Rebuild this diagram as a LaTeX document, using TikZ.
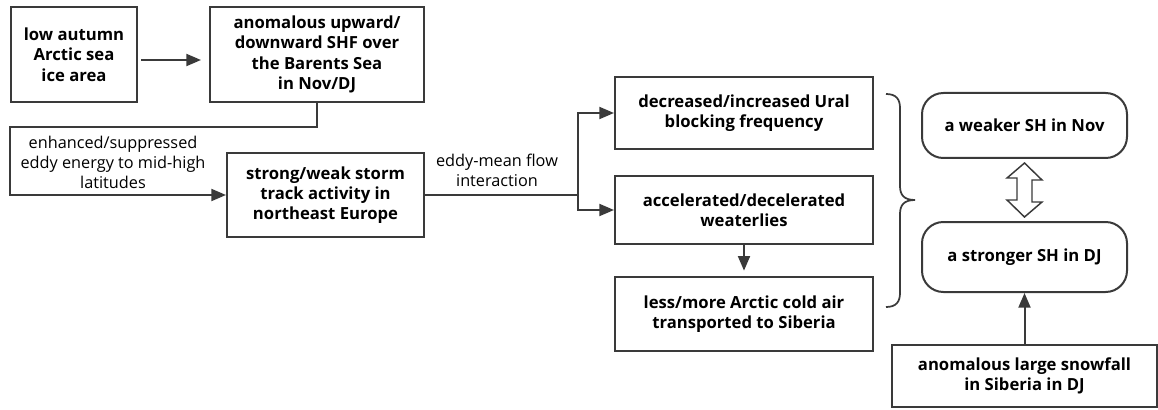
\documentclass[tikz,border=0pt]{standalone}
\usepackage{fontspec}
\setmainfont{Open Sans}
\usetikzlibrary{arrows.meta,calc}
\definecolor{edge}{HTML}{3A3A3A}
\tikzset{
  x=0.75pt, y=-0.75pt,
  box/.style={draw=edge, line width=1.5pt, fill=white, align=center,
    font=\fontsize{12.5}{15.2}\selectfont\bfseries, inner sep=0pt},
  pill/.style={box, rounded corners=16pt},
  link/.style={draw=edge, line width=1.5pt},
  arr/.style={link, -{Triangle[length=11pt,width=9pt]}},
  lbl/.style={align=center, font=\fontsize{12.2}{15}\selectfont, inner sep=0pt},
  hollow/.style={draw=edge, line width=1.1pt, fill=white, line join=miter},
}
\begin{document}
\begin{tikzpicture}
\useasboundingbox (0,0) rectangle (1158,410);

% boxes of the causal chain
\node[box, minimum width={126*0.75pt}, minimum height={95*0.75pt}] (A) at (74,54.5)
  {low autumn\\Arctic sea\\ice area};
\node[box, minimum width={214*0.75pt}, minimum height={95*0.75pt}] (B) at (317,54.5)
  {anomalous upward/\\downward SHF over\\the Barents Sea\\in Nov/DJ};
\node[box, minimum width={197*0.75pt}, minimum height={84*0.75pt}] (C) at (325.5,195)
  {strong/weak storm\\track activity in\\northeast Europe};
\node[box, minimum width={258*0.75pt}, minimum height={72*0.75pt}] (D) at (744,113)
  {decreased/increased Ural\\blocking frequency};
\node[box, minimum width={258*0.75pt}, minimum height={68*0.75pt}] (E) at (744,210)
  {accelerated/decelerated\\weaterlies};
\node[box, minimum width={258*0.75pt}, minimum height={74*0.75pt}] (F) at (744,314)
  {less/more Arctic cold air\\transported to Siberia};
\node[pill, minimum width={205*0.75pt}, minimum height={65*0.75pt}] (G) at (1024.5,125.5)
  {a weaker SH in Nov};
\node[pill, minimum width={205*0.75pt}, minimum height={70*0.75pt}] (H) at (1024.5,257)
  {a stronger SH in DJ};
\node[box, minimum width={265*0.75pt}, minimum height={62*0.75pt}] (I) at (1024.5,376)
  {anomalous large snowfall\\in Siberia in DJ};

% connector labels
\node[lbl] (L1) at (113,162) {enhanced/suppressed\\eddy energy to mid-high\\latitudes};
\node[lbl] (L2) at (497,170) {eddy-mean flow\\interaction};

% connectors
\draw[arr] ([shift={(3,5.5)}]A.east) -- ([shift={(-8,5.5)}]B.west);
\coordinate (b1) at (B.south |- 0,127.5);
\coordinate (b2) at (10,127.5);
\draw[arr] (B.south) -- (b1) -- (b2) |- (C.west);
\coordinate (fork) at (578,195);
\draw[link] (C.east) -- (fork);
\draw[arr] (fork) |- (D.west);
\draw[arr] (fork) |- (E.west);
\draw[arr] (E.south) -- ([yshift=4]F.north);
\draw[arr] (I.north) -- (H.south);

% curly brace gathering the three effects
\coordinate (brT) at (886,94);
\coordinate (brB) at (886,307);
\coordinate (brM) at (915,200);
\draw[link, line width=1.3pt]
  (brT) .. controls (896,94) and (900,99) .. (900,108)
  -- (900,186) .. controls (900,195) and (904,200) .. (brM)
  .. controls (904,200) and (900,205) .. (900,214)
  -- (900,293) .. controls (900,302) and (896,307) .. (brB);

% hollow two-headed arrow between the two SH states
\draw[hollow]
  ($(G.south)+(0,4)$) -- ++(17.5,17) -- ++(-10,0) -- ++(0,22) -- ++(10,0)
  -- ($(H.north)+(0,-4)$) -- ++(-17.5,-17) -- ++(10,0) -- ++(0,-22) -- ++(-10,0)
  -- cycle;
\end{tikzpicture}
\end{document}
